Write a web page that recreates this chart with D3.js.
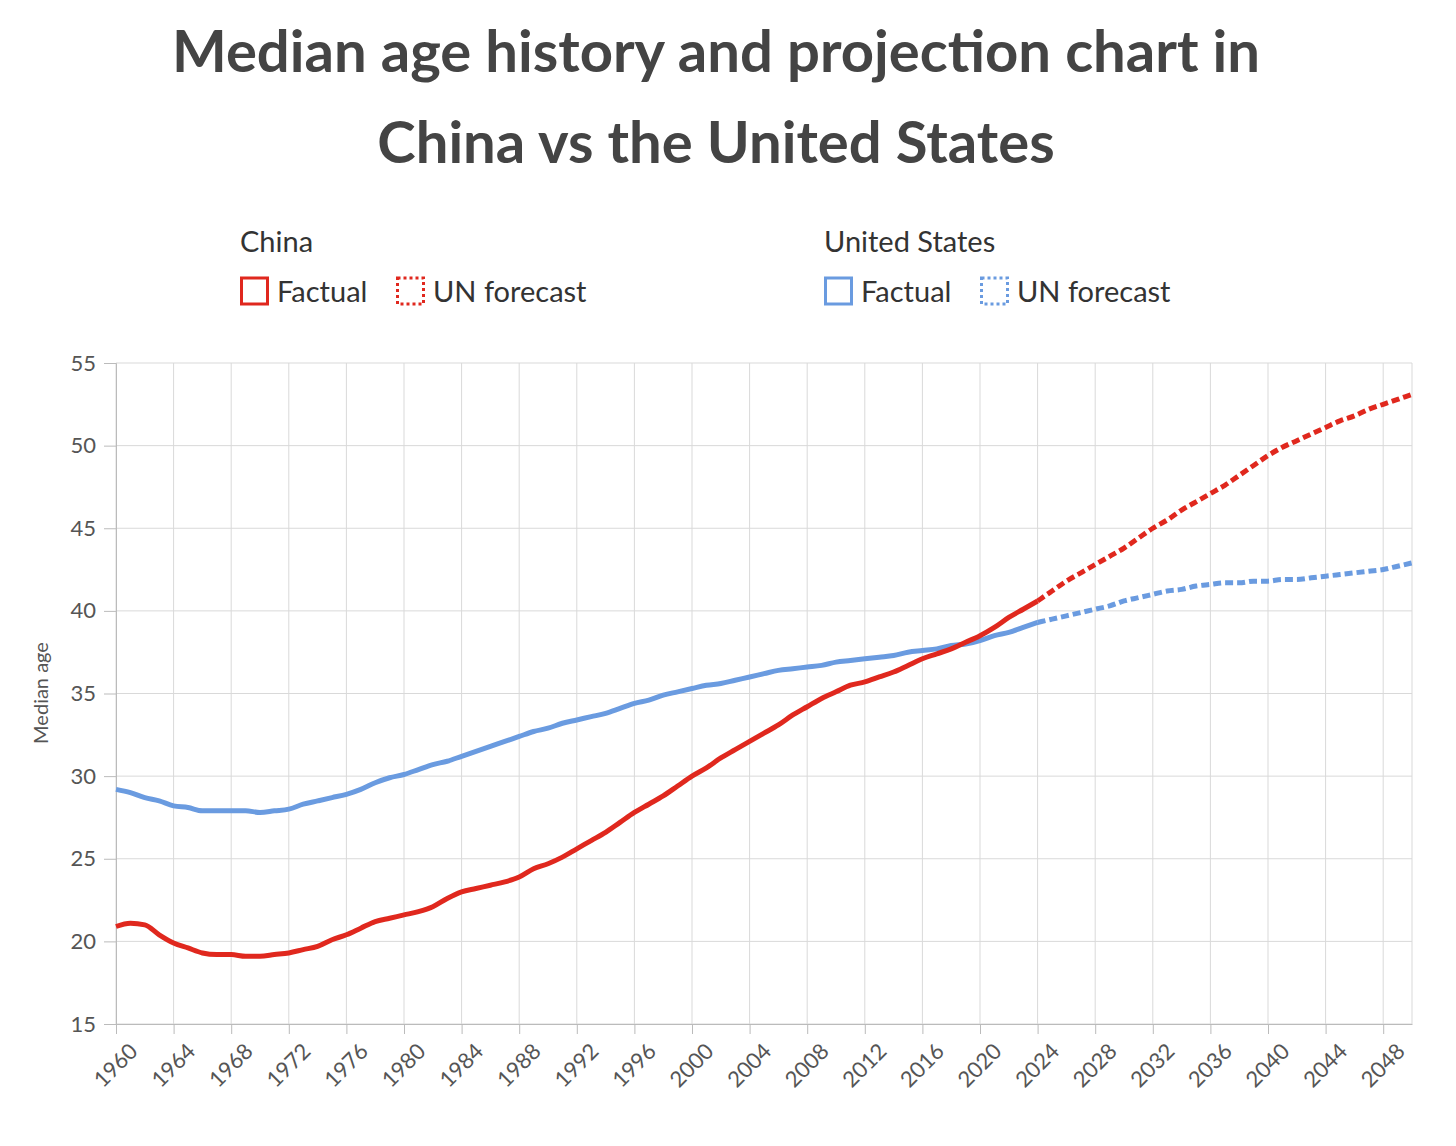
<!DOCTYPE html><html><head><meta charset="utf-8">
<script src="https://cdn.jsdelivr.net/npm/d3@7"></script>
<style>body{margin:0;background:#fff}text{font-family:Lato,sans-serif}</style></head><body>
<svg id="c" width="1456" height="1146"></svg>
<script>
const years = d3.range(1960, 2051);
const chinaFactual = [20.9,21.1,21.0,20.4,19.9,19.6,19.3,19.2,19.2,19.1,19.1,19.2,19.3,19.5,19.7,20.1,20.4,20.8,21.2,21.4,21.6,21.8,22.1,22.6,23.0,23.2,23.4,23.6,23.9,24.4,24.7,25.1,25.6,26.1,26.6,27.2,27.8,28.3,28.8,29.4,30.0,30.5,31.1,31.6,32.1,32.6,33.1,33.7,34.2,34.7,35.1,35.5,35.7,36.0,36.3,36.7,37.1,37.4,37.7,38.1,38.5,39.0,39.6,40.1,40.6];
const chinaForecast = [40.6,41.2,41.8,42.3,42.8,43.3,43.8,44.4,45.0,45.5,46.1,46.6,47.1,47.6,48.2,48.8,49.4,49.9,50.3,50.7,51.1,51.5,51.8,52.2,52.5,52.8,53.1];
const usFactual = [29.2,29.0,28.7,28.5,28.2,28.1,27.9,27.9,27.9,27.9,27.8,27.9,28.0,28.3,28.5,28.7,28.9,29.2,29.6,29.9,30.1,30.4,30.7,30.9,31.2,31.5,31.8,32.1,32.4,32.7,32.9,33.2,33.4,33.6,33.8,34.1,34.4,34.6,34.9,35.1,35.3,35.5,35.6,35.8,36.0,36.2,36.4,36.5,36.6,36.7,36.9,37.0,37.1,37.2,37.3,37.5,37.6,37.7,37.9,38.0,38.2,38.5,38.7,39.0,39.3];
const usForecast = [39.3,39.5,39.7,39.9,40.1,40.3,40.6,40.8,41.0,41.2,41.3,41.5,41.6,41.7,41.7,41.8,41.8,41.9,41.9,42.0,42.1,42.2,42.3,42.4,42.5,42.7,42.9];
const yTicks = [15,20,25,30,35,40,45,50,55];
const xTicks = d3.range(1960, 2049, 4);
const RED = "#e0281e", BLUE = "#6a9be0";

const svg = d3.select("#c");
const x = d3.scaleLinear().domain([1960,2050]).range([116,1412]);
const y = d3.scaleLinear().domain([15,55]).range([1024,363]);

svg.append("text").attr("x",716).attr("y",72).attr("text-anchor","middle").attr("font-size",58).attr("font-weight","bold").attr("fill","#444").text("Median age history and projection chart in");
svg.append("text").attr("x",716).attr("y",163).attr("text-anchor","middle").attr("font-size",58).attr("font-weight","bold").attr("fill","#444").text("China vs the United States");

function legend(x0, title, color){
  svg.append("text").attr("x",x0).attr("y",252).attr("font-size",29).attr("fill","#333").text(title);
  svg.append("rect").attr("x",x0+1.5).attr("y",278).attr("width",26).attr("height",26).attr("fill","none").attr("stroke",color).attr("stroke-width",3);
  svg.append("text").attr("x",x0+37).attr("y",302).attr("font-size",29).attr("fill","#333").text("Factual");
  svg.append("rect").attr("x",x0+157.5).attr("y",278).attr("width",26).attr("height",26).attr("fill","none").attr("stroke",color).attr("stroke-width",3).attr("stroke-dasharray","3,3");
  svg.append("text").attr("x",x0+193).attr("y",302).attr("font-size",29).attr("fill","#333").text("UN forecast");
}
legend(240,"China",RED);
legend(824,"United States",BLUE);

const g = svg.append("g");
g.selectAll(".hg").data(yTicks).join("line").attr("x1",116).attr("x2",1412).attr("y1",d=>y(d)).attr("y2",d=>y(d)).attr("stroke","#d9d9d9").attr("stroke-width",1);
g.selectAll(".vg").data(xTicks).join("line").attr("x1",d=>x(d)).attr("x2",d=>x(d)).attr("y1",363).attr("y2",1024).attr("stroke","#d9d9d9");
g.append("line").attr("x1",1412).attr("x2",1412).attr("y1",363).attr("y2",1024).attr("stroke","#d9d9d9");

const ya = svg.append("g").attr("transform","translate(116,0)").call(d3.axisLeft(y).tickValues(yTicks).tickSize(12).tickPadding(8));
ya.select(".domain").attr("stroke","#bbb");
ya.selectAll(".tick line").attr("stroke","#bbb");
ya.selectAll("text").attr("font-size",22).attr("fill","#555").attr("font-family","Lato");
const xa = svg.append("g").attr("transform","translate(0,1024)").call(d3.axisBottom(x).tickValues(xTicks).tickFormat(d3.format("d")).tickSize(10).tickSizeOuter(0));
xa.select(".domain").attr("stroke","#bbb");
xa.selectAll(".tick line").attr("stroke","#bbb");
xa.selectAll("text").attr("font-size",22).attr("fill","#555").attr("font-family","Lato").attr("text-anchor","end").attr("transform","translate(8,14) rotate(-45)").attr("dy","0.35em");

svg.append("text").attr("transform","translate(48,693) rotate(-90)").attr("text-anchor","middle").attr("font-size",20).attr("fill","#555").text("Median age");

const line = d3.line().x(d=>x(d[0])).y(d=>y(d[1])).curve(d3.curveMonotoneX);
const fy = years.slice(0,65), py = years.slice(64);
function draw(data, yrs, color, dash){
  svg.append("path").attr("d",line(yrs.map((yr,i)=>[yr,data[i]]))).attr("fill","none").attr("stroke",color).attr("stroke-width",5).attr("stroke-dasharray",dash||null);
}
draw(usFactual, fy, BLUE); draw(usForecast, py, BLUE, "8,4");
draw(chinaFactual, fy, RED); draw(chinaForecast, py, RED, "8,4");
</script></body></html>
